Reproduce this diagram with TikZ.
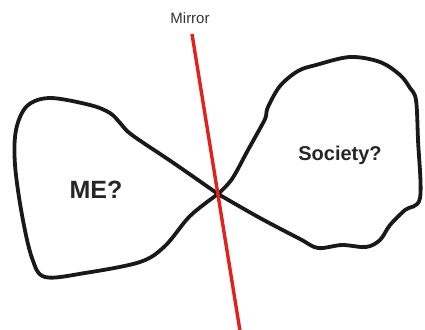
\documentclass[tikz,border=0pt]{standalone}
\usepackage{fontspec}
\setmainfont{Liberation Sans}
\usetikzlibrary{positioning}

\begin{document}
\begin{tikzpicture}[
  x=1pt, y=-1pt,
  loop/.style={line width=3.8pt, line join=round, line cap=round, black!90},
  mirrorline/.style={line width=3.4pt, draw={rgb,255:red,226;green,32;blue,30}},
  lbl/.style={font=\bfseries\fontsize{25}{28}\selectfont, text=black!85},
  every node/.style={inner sep=0pt}
]
  \useasboundingbox (0,0) rectangle (425,329);
  \coordinate (cross) at (218,194);
  \coordinate (mtop) at (192,34);
  \coordinate (mbot) at (240,331);

  % left loop
  \draw[loop] plot[smooth, tension=0.55] coordinates {
    (cross) (175,164) (132,135) (121,124) (110,113) (90,105) (50,98) (27,106)
    (16,130) (15,165) (22,215) (32,258) (45,277) (85,273) (140,262) (165,246)
    (190,216) (cross)};

  % right loop
  \draw[loop] plot[smooth, tension=0.55] coordinates {
    (cross) (232,179) (248,150) (263,123) (266,116) (268,107) (280,86) (298,71)
    (316,65) (350,57) (380,62) (400,75) (410,88) (416,100) (418,140) (420,198)
    (405,210) (390,225) (380,240) (366,247) (342,245) (318,248) (300,239)
    (260,218) (cross)};

  \draw[mirrorline] (mtop) -- (mbot);

  \node[font=\fontsize{15}{17}\selectfont, text=black!80, anchor=base] (mirror) at (190,24) {Mirror};
  \node[lbl] (me) at (96,190) {ME?};
  \node[lbl, font=\bfseries\fontsize{20}{24}\selectfont] (soc) at (340,155) {Society?};
\end{tikzpicture}
\end{document}
